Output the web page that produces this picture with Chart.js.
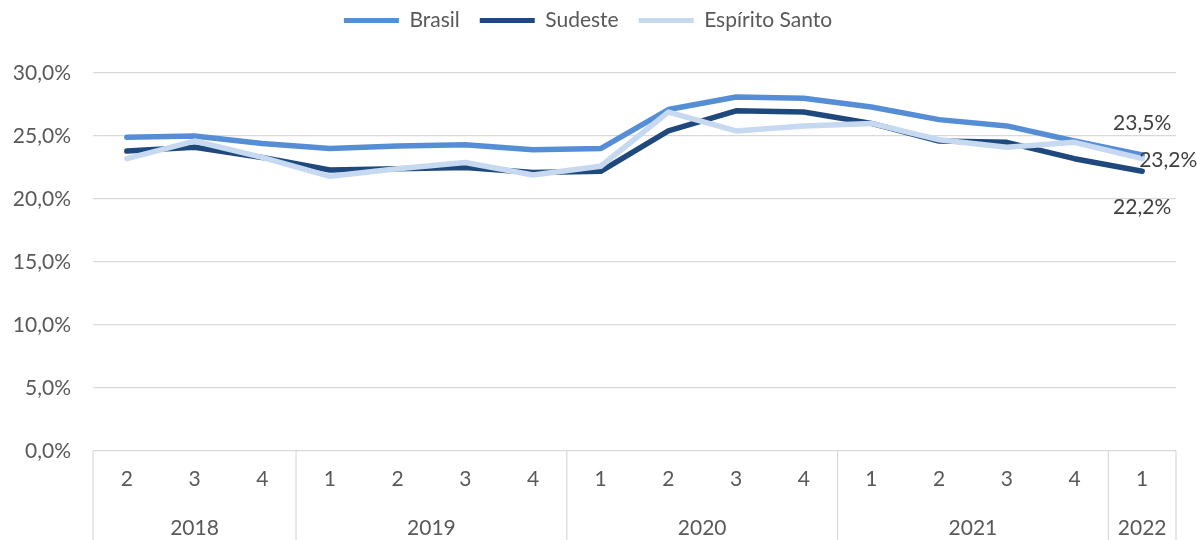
<!DOCTYPE html>
<html>
<head>
<meta charset="utf-8">
<script src="https://cdn.jsdelivr.net/npm/chart.js@4"></script>
<style>
  html, body { margin: 0; padding: 0; background: #fff; }
  #wrap { width: 1197px; height: 540px; }
</style>
</head>
<body>
<div id="wrap"><canvas id="grafico"></canvas></div>
<script>
// Trimestres e anos de cada ponto
const quarters = ['2', '3', '4', '1', '2', '3', '4', '1', '2', '3', '4', '1', '2', '3', '4', '1'];
const years = ['2018', '2018', '2018', '2019', '2019', '2019', '2019', '2020', '2020', '2020', '2020', '2021', '2021', '2021', '2021', '2022'];

// Séries (%)
const brasil = [24.9, 25.0, 24.4, 24.0, 24.2, 24.3, 23.9, 24.0, 27.1, 28.1, 28.0, 27.3, 26.3, 25.8, 24.6, 23.5];
const sudeste = [23.8, 24.1, 23.3, 22.3, 22.4, 22.5, 22.1, 22.2, 25.4, 27.0, 26.9, 26.0, 24.6, 24.5, 23.2, 22.2];
const espiritoSanto = [23.2, 24.6, 23.3, 21.8, 22.4, 22.9, 21.9, 22.6, 26.9, 25.4, 25.8, 26.0, 24.7, 24.1, 24.5, 23.2];

const fonte = 'Lato, "Liberation Sans", sans-serif';
const cinza = '#595959';
const tam = 21;

function fmt(v) {
  return v.toFixed(1).replace('.', ',') + '%';
}

// altura da legenda (empurra a área do gráfico para baixo)
const legendaAltura = {
  id: 'legendaAltura',
  beforeInit(chart) {
    const fit = chart.legend.fit;
    chart.legend.fit = function () {
      fit.call(this);
      this.height = 83;
    };
  }
};

// Eixo com dois níveis (anos) + rótulo do último ponto
const extras = {
  id: 'extras',
  afterDraw(chart) {
    const ctx = chart.ctx;
    const x = chart.scales.x;
    const area = chart.chartArea;
    const half = (x.getPixelForValue(1) - x.getPixelForValue(0)) / 2;
    ctx.save();
    ctx.strokeStyle = '#D9D9D9';
    ctx.lineWidth = 1.2;
    ctx.fillStyle = cinza;
    ctx.font = tam + 'px ' + fonte;
    ctx.textAlign = 'center';
    ctx.textBaseline = 'middle';
    // grupos de anos
    let start = 0;
    for (let i = 1; i <= years.length; i++) {
      if (i === years.length || years[i] !== years[start]) {
        const l = x.getPixelForValue(start) - half;
        const r = x.getPixelForValue(i - 1) + half;
        ctx.beginPath();
        ctx.moveTo(l, area.bottom);
        ctx.lineTo(l, chart.height);
        ctx.stroke();
        if (i === years.length) {
          ctx.beginPath();
          ctx.moveTo(r, area.bottom);
          ctx.lineTo(r, chart.height);
          ctx.stroke();
        }
        ctx.fillText(years[start], (l + r) / 2, area.bottom + 77);
        start = i;
      }
    }
    // rótulos finais
    ctx.fillStyle = '#404040';
    const last = quarters.length - 1;
    const pB = chart.getDatasetMeta(0).data[last];
    const pS = chart.getDatasetMeta(1).data[last];
    const pE = chart.getDatasetMeta(2).data[last];
    ctx.fillText(fmt(brasil[last]), pB.x, pB.y - 32);
    ctx.fillText(fmt(sudeste[last]), pS.x, pS.y + 36);
    ctx.textAlign = 'left';
    ctx.fillText(fmt(espiritoSanto[last]), pE.x - 3, pE.y + 2);
    ctx.restore();
  }
};

function serie(label, data, cor, ordem) {
  return {
    label: label,
    data: data,
    borderColor: cor,
    backgroundColor: cor,
    borderWidth: 5.5,
    borderCapStyle: 'round',
    borderJoinStyle: 'round',
    pointRadius: 0,
    tension: 0,
    order: ordem
  };
}

new Chart(document.getElementById('grafico'), {
  type: 'line',
  data: {
    labels: quarters,
    datasets: [
      serie('Brasil', brasil, '#558ED5', 3),
      serie('Sudeste', sudeste, '#1F497D', 2),
      serie('Espírito Santo', espiritoSanto, '#C6D9F1', 1)
    ]
  },
  options: {
    responsive: true,
    maintainAspectRatio: false,
    animation: false,
    layout: { padding: { left: 0, right: 21, top: -10, bottom: 0 } },
    plugins: {
      tooltip: { enabled: false },
      legend: {
        position: 'top',
        labels: {
          boxWidth: 55,
          boxHeight: 5,
          padding: 20,
          color: cinza,
          font: { family: fonte, size: tam },
          sort: (a, b) => a.datasetIndex - b.datasetIndex,
          generateLabels(chart) {
            return Chart.defaults.plugins.legend.labels.generateLabels(chart).map(function (it) {
              it.lineWidth = 0;
              return it;
            });
          }
        }
      }
    },
    scales: {
      x: {
        offset: true,
        grid: { display: false, drawTicks: false },
        border: { display: false },
        ticks: { color: cinza, font: { family: fonte, size: tam }, padding: 16, maxRotation: 0, autoSkip: false },
        afterFit(scale) { scale.height = 89; }
      },
      y: {
        min: 0,
        max: 30,
        ticks: { stepSize: 5, color: cinza, font: { family: fonte, size: tam }, padding: 22, callback: (v) => fmt(v) },
        grid: { color: '#D9D9D9', lineWidth: 1.2, drawTicks: false },
        border: { display: false },
        afterFit(scale) { scale.width = 93; }
      }
    }
  },
  plugins: [legendaAltura, extras]
});
</script>
</body>
</html>
